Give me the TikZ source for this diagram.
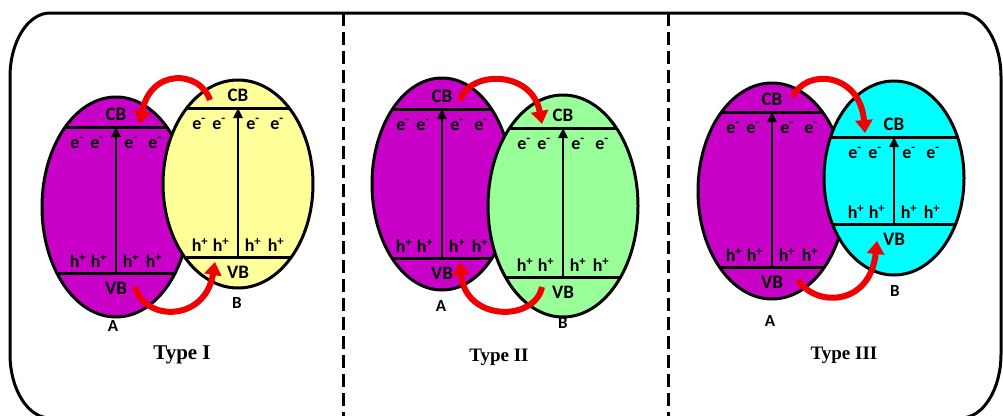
\documentclass[tikz,border=0pt]{standalone}
\usepackage{fontspec}
\setmainfont{Carlito}
\newfontfamily\tnrfont{Liberation Serif}
\usetikzlibrary{arrows.meta}
\definecolor{cpurple}{HTML}{C800C8}
\definecolor{cyellow}{HTML}{FFFF99}
\definecolor{cgreen}{HTML}{99FF99}
\definecolor{ccyan}{HTML}{00FFFF}
\definecolor{cred}{HTML}{F00000}
\tikzset{
 band/.style={line width=3pt},
 rim/.style={line width=3pt},
 lbl/.style={font=\fontsize{19}{21}\selectfont\bfseries, inner sep=0pt},
 car/.style={font=\fontsize{18}{20}\selectfont\bfseries, inner sep=0pt},
 nm/.style={font=\fontsize{17}{19}\selectfont\bfseries, inner sep=0pt},
 typ/.style={font=\tnrfont\bfseries\fontsize{21}{23}\selectfont, inner sep=0pt},
 exc/.style={line width=2.6pt, -{Triangle[width=9pt,length=10pt]}},
 transfer/.style={draw=cred, line width=6pt, -{Triangle[width=17pt,length=13pt]}, color=cred},
 divider/.style={line width=3pt, dash pattern=on 13pt off 6pt},
 outerframe/.style={line width=3pt}
}
% #1 name, #2 cx, #3 cy, #4 rx, #5 ry, #6 colour, #7 CB line y, #8 VB line y
\newcommand\semicon[8]{%
 \fill[#6] (#2,#3) ellipse [x radius=#4, y radius=#5];
 \begin{scope}
  \clip (#2,#3) ellipse [x radius=#4, y radius=#5];
  \draw[band] (#2-#4,#7) -- (#2+#4,#7);
  \draw[band] (#2-#4,#8) -- (#2+#4,#8);
 \end{scope}
 \node[lbl] (#1cb) at (#2,#7-13) {CB};
 \node[lbl] (#1vb) at (#2,#8+15) {VB};
 \node[car] (#1ea) at (#2-39,#7+16) {e\textsuperscript{-}};
 \node[car] (#1eb) at (#2-19,#7+16) {e\textsuperscript{-}};
 \node[car] (#1ec) at (#2+15,#7+16) {e\textsuperscript{-}};
 \node[car] (#1ed) at (#2+39,#7+16) {e\textsuperscript{-}};
 \node[car] (#1ha) at (#2-38,#8-12) {h\textsuperscript{+}};
 \node[car] (#1hb) at (#2-17,#8-12) {h\textsuperscript{+}};
 \node[car] (#1hc) at (#2+15,#8-12) {h\textsuperscript{+}};
 \node[car] (#1hd) at (#2+38,#8-12) {h\textsuperscript{+}};
 \coordinate (#1bot) at (#2,#8);
 \coordinate (#1top) at (#2,#7);
 \draw[exc] (#1bot) -- (#1top);
 \draw[rim] (#2,#3) ellipse [x radius=#4, y radius=#5];
}
\begin{document}
\begin{tikzpicture}[x=1pt,y=-1pt]
\useasboundingbox (0,0) rectangle (1003,415);
% outer frame
\draw[outerframe] (10,77) arc[start angle=180, end angle=270, x radius=40, y radius=64]
  -- (961,13) arc[start angle=270, end angle=360, x radius=40, y radius=64]
  -- (1001,354) arc[start angle=0, end angle=90, x radius=40, y radius=64]
  -- (50,418) arc[start angle=90, end angle=180, x radius=40, y radius=64] -- cycle;
% dividers
\coordinate (d1t) at (343,13); \coordinate (d1b) at (343,418);
\coordinate (d2t) at (668,13); \coordinate (d2b) at (668,418);
\draw[divider] (d1t) -- (d1b);
\draw[divider] (d2t) -- (d2b);
% Type I
\semicon{pa}{116}{207}{74}{110}{cpurple}{127}{273}
\semicon{pb}{238}{184}{75}{104}{cyellow}{108}{257}
\node[nm] (pA) at (113,326) {A};
\node[nm] (pB) at (237,303) {B};
\coordinate (p1s) at (210,100); \coordinate (p1e) at (140,124);
\draw[transfer] (p1s) .. controls (200,70) and (150,68) .. (p1e);
\coordinate (p2s) at (135,287); \coordinate (p2e) at (215,262);
\draw[transfer] (p2s) .. controls (145,322) and (205,322) .. (p2e);
\node[typ] (t1) at (182,355) {Type I};
% Type II
\semicon{qa}{442}{184}{70}{106}{cpurple}{109}{258}
\semicon{qb}{563}{206}{75}{111}{cgreen}{128}{277}
\node[nm] (qA) at (441,306) {A};
\node[nm] (qB) at (563,323) {B};
\coordinate (q1s) at (460,100); \coordinate (q1e) at (542,124);
\draw[transfer] (q1s) .. controls (470,70) and (532,70) .. (q1e);
\coordinate (q2s) at (542,287); \coordinate (q2e) at (460,262);
\draw[transfer] (q2s) .. controls (535,322) and (465,322) .. (q2e);
\node[typ, font=\tnrfont\bfseries\fontsize{19}{21}\selectfont] (t2) at (499,357) {Type II};
% Type III
\semicon{ra}{772}{191}{74}{108}{cpurple}{112}{267}
\semicon{rb}{894}{178}{70}{97}{ccyan}{137}{224}
\node[nm] (rA) at (770,321) {A};
\node[nm] (rB) at (895,291) {B};
\coordinate (r1s) at (793,97); \coordinate (r1e) at (865,133);
\draw[transfer] (r1s) .. controls (805,68) and (860,72) .. (r1e);
\coordinate (r2s) at (798,280); \coordinate (r2e) at (877,241);
\draw[transfer] (r2s) .. controls (815,307) and (870,307) .. (r2e);
\node[typ, font=\tnrfont\bfseries\fontsize{19}{21}\selectfont] (t3) at (844,355) {Type III};
\end{tikzpicture}
\end{document}
